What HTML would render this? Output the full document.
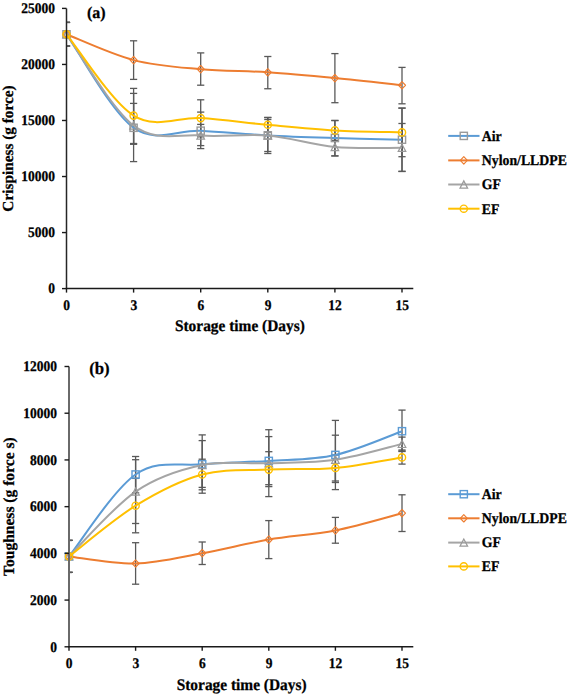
<!DOCTYPE html>
<html><head><meta charset="utf-8"><style>
html,body{margin:0;padding:0;background:#fff;}
body{width:568px;height:694px;overflow:hidden;}
svg{display:block;}
text{font-family:"Liberation Serif", serif;font-weight:bold;fill:#000;stroke:#000;stroke-width:0.25px;text-rendering:geometricPrecision;}
</style></head><body>
<svg width="568" height="694" viewBox="0 0 568 694">
<rect width="568" height="694" fill="#fff"/>
<line x1="66.50" y1="22.40" x2="70.10" y2="22.40" stroke="#595959" stroke-width="1.3"/><line x1="66.50" y1="46.00" x2="70.10" y2="46.00" stroke="#595959" stroke-width="1.3"/>
<line x1="133.60" y1="93.40" x2="133.60" y2="161.60" stroke="#595959" stroke-width="1.3"/><line x1="130.00" y1="93.40" x2="137.20" y2="93.40" stroke="#595959" stroke-width="1.3"/><line x1="130.00" y1="161.60" x2="137.20" y2="161.60" stroke="#595959" stroke-width="1.3"/>
<line x1="200.70" y1="112.10" x2="200.70" y2="148.60" stroke="#595959" stroke-width="1.3"/><line x1="197.10" y1="112.10" x2="204.30" y2="112.10" stroke="#595959" stroke-width="1.3"/><line x1="197.10" y1="148.60" x2="204.30" y2="148.60" stroke="#595959" stroke-width="1.3"/>
<line x1="267.80" y1="117.50" x2="267.80" y2="153.50" stroke="#595959" stroke-width="1.3"/><line x1="264.20" y1="117.50" x2="271.40" y2="117.50" stroke="#595959" stroke-width="1.3"/><line x1="264.20" y1="153.50" x2="271.40" y2="153.50" stroke="#595959" stroke-width="1.3"/>
<line x1="334.90" y1="120.50" x2="334.90" y2="155.90" stroke="#595959" stroke-width="1.3"/><line x1="331.30" y1="120.50" x2="338.50" y2="120.50" stroke="#595959" stroke-width="1.3"/><line x1="331.30" y1="155.90" x2="338.50" y2="155.90" stroke="#595959" stroke-width="1.3"/>
<line x1="402.00" y1="108.10" x2="402.00" y2="171.30" stroke="#595959" stroke-width="1.3"/><line x1="398.40" y1="108.10" x2="405.61" y2="108.10" stroke="#595959" stroke-width="1.3"/><line x1="398.40" y1="171.30" x2="405.61" y2="171.30" stroke="#595959" stroke-width="1.3"/>
<line x1="66.50" y1="22.40" x2="70.10" y2="22.40" stroke="#595959" stroke-width="1.3"/><line x1="66.50" y1="46.00" x2="70.10" y2="46.00" stroke="#595959" stroke-width="1.3"/>
<line x1="133.60" y1="40.80" x2="133.60" y2="79.40" stroke="#595959" stroke-width="1.3"/><line x1="130.00" y1="40.80" x2="137.20" y2="40.80" stroke="#595959" stroke-width="1.3"/><line x1="130.00" y1="79.40" x2="137.20" y2="79.40" stroke="#595959" stroke-width="1.3"/>
<line x1="200.70" y1="52.90" x2="200.70" y2="85.20" stroke="#595959" stroke-width="1.3"/><line x1="197.10" y1="52.90" x2="204.30" y2="52.90" stroke="#595959" stroke-width="1.3"/><line x1="197.10" y1="85.20" x2="204.30" y2="85.20" stroke="#595959" stroke-width="1.3"/>
<line x1="267.80" y1="56.50" x2="267.80" y2="88.75" stroke="#595959" stroke-width="1.3"/><line x1="264.20" y1="56.50" x2="271.40" y2="56.50" stroke="#595959" stroke-width="1.3"/><line x1="264.20" y1="88.75" x2="271.40" y2="88.75" stroke="#595959" stroke-width="1.3"/>
<line x1="334.90" y1="53.60" x2="334.90" y2="102.70" stroke="#595959" stroke-width="1.3"/><line x1="331.30" y1="53.60" x2="338.50" y2="53.60" stroke="#595959" stroke-width="1.3"/><line x1="331.30" y1="102.70" x2="338.50" y2="102.70" stroke="#595959" stroke-width="1.3"/>
<line x1="402.00" y1="67.40" x2="402.00" y2="103.80" stroke="#595959" stroke-width="1.3"/><line x1="398.40" y1="67.40" x2="405.61" y2="67.40" stroke="#595959" stroke-width="1.3"/><line x1="398.40" y1="103.80" x2="405.61" y2="103.80" stroke="#595959" stroke-width="1.3"/>
<line x1="66.50" y1="22.40" x2="70.10" y2="22.40" stroke="#595959" stroke-width="1.3"/><line x1="66.50" y1="46.00" x2="70.10" y2="46.00" stroke="#595959" stroke-width="1.3"/>
<line x1="133.60" y1="103.40" x2="133.60" y2="144.30" stroke="#595959" stroke-width="1.3"/><line x1="130.00" y1="103.40" x2="137.20" y2="103.40" stroke="#595959" stroke-width="1.3"/><line x1="130.00" y1="144.30" x2="137.20" y2="144.30" stroke="#595959" stroke-width="1.3"/>
<line x1="200.70" y1="124.40" x2="200.70" y2="145.60" stroke="#595959" stroke-width="1.3"/><line x1="197.10" y1="124.40" x2="204.30" y2="124.40" stroke="#595959" stroke-width="1.3"/><line x1="197.10" y1="145.60" x2="204.30" y2="145.60" stroke="#595959" stroke-width="1.3"/>
<line x1="267.80" y1="119.50" x2="267.80" y2="151.50" stroke="#595959" stroke-width="1.3"/><line x1="264.20" y1="119.50" x2="271.40" y2="119.50" stroke="#595959" stroke-width="1.3"/><line x1="264.20" y1="151.50" x2="271.40" y2="151.50" stroke="#595959" stroke-width="1.3"/>
<line x1="334.90" y1="138.10" x2="334.90" y2="155.90" stroke="#595959" stroke-width="1.3"/><line x1="331.30" y1="138.10" x2="338.50" y2="138.10" stroke="#595959" stroke-width="1.3"/><line x1="331.30" y1="155.90" x2="338.50" y2="155.90" stroke="#595959" stroke-width="1.3"/>
<line x1="402.00" y1="123.50" x2="402.00" y2="171.50" stroke="#595959" stroke-width="1.3"/><line x1="398.40" y1="123.50" x2="405.61" y2="123.50" stroke="#595959" stroke-width="1.3"/><line x1="398.40" y1="171.50" x2="405.61" y2="171.50" stroke="#595959" stroke-width="1.3"/>
<line x1="66.50" y1="22.40" x2="70.10" y2="22.40" stroke="#595959" stroke-width="1.3"/><line x1="66.50" y1="46.00" x2="70.10" y2="46.00" stroke="#595959" stroke-width="1.3"/>
<line x1="133.60" y1="88.40" x2="133.60" y2="143.50" stroke="#595959" stroke-width="1.3"/><line x1="130.00" y1="88.40" x2="137.20" y2="88.40" stroke="#595959" stroke-width="1.3"/><line x1="130.00" y1="143.50" x2="137.20" y2="143.50" stroke="#595959" stroke-width="1.3"/>
<line x1="200.70" y1="99.80" x2="200.70" y2="136.80" stroke="#595959" stroke-width="1.3"/><line x1="197.10" y1="99.80" x2="204.30" y2="99.80" stroke="#595959" stroke-width="1.3"/><line x1="197.10" y1="136.80" x2="204.30" y2="136.80" stroke="#595959" stroke-width="1.3"/>
<line x1="267.80" y1="117.50" x2="267.80" y2="132.00" stroke="#595959" stroke-width="1.3"/><line x1="264.20" y1="117.50" x2="271.40" y2="117.50" stroke="#595959" stroke-width="1.3"/><line x1="264.20" y1="132.00" x2="271.40" y2="132.00" stroke="#595959" stroke-width="1.3"/>
<line x1="334.90" y1="120.50" x2="334.90" y2="140.30" stroke="#595959" stroke-width="1.3"/><line x1="331.30" y1="120.50" x2="338.50" y2="120.50" stroke="#595959" stroke-width="1.3"/><line x1="331.30" y1="140.30" x2="338.50" y2="140.30" stroke="#595959" stroke-width="1.3"/>
<line x1="402.00" y1="108.10" x2="402.00" y2="156.70" stroke="#595959" stroke-width="1.3"/><line x1="398.40" y1="108.10" x2="405.61" y2="108.10" stroke="#595959" stroke-width="1.3"/><line x1="398.40" y1="156.70" x2="405.61" y2="156.70" stroke="#595959" stroke-width="1.3"/>
<path d="M66.50,34.30 C77.68,49.88 111.23,111.73 133.60,127.80 C155.97,143.87 178.34,129.43 200.70,130.70 C223.07,131.97 245.44,134.18 267.80,135.40 C290.17,136.62 312.54,137.28 334.90,138.00 C357.27,138.72 390.82,139.42 402.00,139.70" fill="none" stroke="#5B9BD5" stroke-width="2.00" stroke-linejoin="round"/>
<rect x="62.90" y="30.70" width="7.20" height="7.20" fill="none" stroke="#9A9A9A" stroke-width="1.40"/>
<rect x="130.00" y="124.20" width="7.20" height="7.20" fill="none" stroke="#9A9A9A" stroke-width="1.40"/>
<rect x="197.10" y="127.10" width="7.20" height="7.20" fill="none" stroke="#9A9A9A" stroke-width="1.40"/>
<rect x="264.20" y="131.80" width="7.20" height="7.20" fill="none" stroke="#9A9A9A" stroke-width="1.40"/>
<rect x="331.30" y="134.40" width="7.20" height="7.20" fill="none" stroke="#9A9A9A" stroke-width="1.40"/>
<rect x="398.40" y="136.10" width="7.20" height="7.20" fill="none" stroke="#9A9A9A" stroke-width="1.40"/>
<path d="M66.50,34.30 C77.68,38.60 111.23,54.28 133.60,60.10 C155.97,65.92 178.34,67.17 200.70,69.20 C223.07,71.23 245.44,70.82 267.80,72.30 C290.17,73.78 312.54,75.94 334.90,78.10 C357.27,80.26 390.82,84.06 402.00,85.25" fill="none" stroke="#ED7D31" stroke-width="2.00" stroke-linejoin="round"/>
<path d="M66.50,30.60 L70.00,34.30 L66.50,38.00 L63.00,34.30 Z" fill="none" stroke="#ED7D31" stroke-width="1.15" stroke-linejoin="round"/>
<path d="M133.60,56.40 L137.10,60.10 L133.60,63.80 L130.10,60.10 Z" fill="none" stroke="#ED7D31" stroke-width="1.15" stroke-linejoin="round"/>
<path d="M200.70,65.50 L204.20,69.20 L200.70,72.90 L197.20,69.20 Z" fill="none" stroke="#ED7D31" stroke-width="1.15" stroke-linejoin="round"/>
<path d="M267.80,68.60 L271.30,72.30 L267.80,76.00 L264.30,72.30 Z" fill="none" stroke="#ED7D31" stroke-width="1.15" stroke-linejoin="round"/>
<path d="M334.90,74.40 L338.40,78.10 L334.90,81.80 L331.40,78.10 Z" fill="none" stroke="#ED7D31" stroke-width="1.15" stroke-linejoin="round"/>
<path d="M402.00,81.55 L405.50,85.25 L402.00,88.95 L398.50,85.25 Z" fill="none" stroke="#ED7D31" stroke-width="1.15" stroke-linejoin="round"/>
<path d="M66.50,34.30 C77.68,49.50 111.23,108.63 133.60,125.50 C155.97,142.37 178.34,133.83 200.70,135.50 C223.07,137.17 245.44,133.58 267.80,135.50 C290.17,137.42 312.54,144.95 334.90,147.00 C357.27,149.05 390.82,147.67 402.00,147.80" fill="none" stroke="#A5A5A5" stroke-width="2.00" stroke-linejoin="round"/>
<path d="M66.50,30.70 L70.30,37.90 L62.70,37.90 Z" fill="none" stroke="#9A9A9A" stroke-width="1.20" stroke-linejoin="miter"/>
<path d="M133.60,121.90 L137.40,129.10 L129.80,129.10 Z" fill="none" stroke="#9A9A9A" stroke-width="1.20" stroke-linejoin="miter"/>
<path d="M200.70,131.90 L204.50,139.10 L196.90,139.10 Z" fill="none" stroke="#9A9A9A" stroke-width="1.20" stroke-linejoin="miter"/>
<path d="M267.80,131.90 L271.60,139.10 L264.00,139.10 Z" fill="none" stroke="#9A9A9A" stroke-width="1.20" stroke-linejoin="miter"/>
<path d="M334.90,143.40 L338.70,150.60 L331.10,150.60 Z" fill="none" stroke="#9A9A9A" stroke-width="1.20" stroke-linejoin="miter"/>
<path d="M402.00,144.20 L405.81,151.40 L398.20,151.40 Z" fill="none" stroke="#9A9A9A" stroke-width="1.20" stroke-linejoin="miter"/>
<path d="M66.50,34.30 C77.68,47.85 111.23,101.63 133.60,115.60 C155.97,129.57 178.34,116.57 200.70,118.10 C223.07,119.63 245.44,122.75 267.80,124.80 C290.17,126.85 312.54,129.13 334.90,130.40 C357.27,131.67 390.82,132.07 402.00,132.40" fill="none" stroke="#FFC000" stroke-width="2.00" stroke-linejoin="round"/>
<circle cx="66.50" cy="34.30" r="3.6" fill="none" stroke="#FFC000" stroke-width="1.40"/>
<circle cx="133.60" cy="115.60" r="3.6" fill="none" stroke="#FFC000" stroke-width="1.40"/>
<circle cx="200.70" cy="118.10" r="3.6" fill="none" stroke="#FFC000" stroke-width="1.40"/>
<circle cx="267.80" cy="124.80" r="3.6" fill="none" stroke="#FFC000" stroke-width="1.40"/>
<circle cx="334.90" cy="130.40" r="3.6" fill="none" stroke="#FFC000" stroke-width="1.40"/>
<circle cx="402.00" cy="132.40" r="3.6" fill="none" stroke="#FFC000" stroke-width="1.40"/>
<line x1="66.50" y1="8.40" x2="66.50" y2="288.60" stroke="#262626" stroke-width="1.50"/>
<line x1="65.80" y1="288.60" x2="413.30" y2="288.60" stroke="#1a1a1a" stroke-width="1.5"/>
<line x1="62.00" y1="288.60" x2="66.50" y2="288.60" stroke="#1a1a1a" stroke-width="1.4"/>
<text transform="translate(55.00,293.35) scale(1,1.090)" font-size="13.50" text-anchor="end">0</text>
<line x1="62.00" y1="232.56" x2="66.50" y2="232.56" stroke="#1a1a1a" stroke-width="1.4"/>
<text transform="translate(55.00,237.31) scale(1,1.090)" font-size="13.50" text-anchor="end">5000</text>
<line x1="62.00" y1="176.52" x2="66.50" y2="176.52" stroke="#1a1a1a" stroke-width="1.4"/>
<text transform="translate(55.00,181.27) scale(1,1.090)" font-size="13.50" text-anchor="end">10000</text>
<line x1="62.00" y1="120.48" x2="66.50" y2="120.48" stroke="#1a1a1a" stroke-width="1.4"/>
<text transform="translate(55.00,125.23) scale(1,1.090)" font-size="13.50" text-anchor="end">15000</text>
<line x1="62.00" y1="64.44" x2="66.50" y2="64.44" stroke="#1a1a1a" stroke-width="1.4"/>
<text transform="translate(55.00,69.19) scale(1,1.090)" font-size="13.50" text-anchor="end">20000</text>
<line x1="62.00" y1="8.40" x2="66.50" y2="8.40" stroke="#1a1a1a" stroke-width="1.4"/>
<text transform="translate(55.00,13.15) scale(1,1.090)" font-size="13.50" text-anchor="end">25000</text>
<line x1="66.50" y1="288.60" x2="66.50" y2="292.60" stroke="#1a1a1a" stroke-width="1.4"/>
<text transform="translate(66.70,309.60) scale(1,1.090)" font-size="13.50" text-anchor="middle">0</text>
<line x1="133.60" y1="288.60" x2="133.60" y2="292.60" stroke="#1a1a1a" stroke-width="1.4"/>
<text transform="translate(133.80,309.60) scale(1,1.090)" font-size="13.50" text-anchor="middle">3</text>
<line x1="200.70" y1="288.60" x2="200.70" y2="292.60" stroke="#1a1a1a" stroke-width="1.4"/>
<text transform="translate(200.90,309.60) scale(1,1.090)" font-size="13.50" text-anchor="middle">6</text>
<line x1="267.80" y1="288.60" x2="267.80" y2="292.60" stroke="#1a1a1a" stroke-width="1.4"/>
<text transform="translate(268.00,309.60) scale(1,1.090)" font-size="13.50" text-anchor="middle">9</text>
<line x1="334.90" y1="288.60" x2="334.90" y2="292.60" stroke="#1a1a1a" stroke-width="1.4"/>
<text transform="translate(335.10,309.60) scale(1,1.090)" font-size="13.50" text-anchor="middle">12</text>
<line x1="402.00" y1="288.60" x2="402.00" y2="292.60" stroke="#1a1a1a" stroke-width="1.4"/>
<text transform="translate(402.20,309.60) scale(1,1.090)" font-size="13.50" text-anchor="middle">15</text>
<text transform="translate(239.90,330.80) scale(1,1.050)" font-size="15.40" text-anchor="middle">Storage time (Days)</text>
<text transform="translate(12.60,148.50) rotate(-90)" font-size="15.30" text-anchor="middle">Crispiness (g force)</text>
<text transform="translate(87.00,18.30) scale(1,1.030)" font-size="16.00" text-anchor="start">(a)</text>
<line x1="448.2" y1="135.90" x2="479.5" y2="135.90" stroke="#5B9BD5" stroke-width="2"/>
<rect x="460.20" y="132.30" width="7.20" height="7.20" fill="none" stroke="#9A9A9A" stroke-width="1.40"/>
<text transform="translate(481.80,140.70) scale(1,1.070)" font-size="13.80" text-anchor="start">Air</text>
<line x1="448.2" y1="160.40" x2="479.5" y2="160.40" stroke="#ED7D31" stroke-width="2"/>
<path d="M463.80,156.70 L467.30,160.40 L463.80,164.10 L460.30,160.40 Z" fill="none" stroke="#ED7D31" stroke-width="1.15" stroke-linejoin="round"/>
<text transform="translate(481.80,165.20) scale(1,1.070)" font-size="13.80" text-anchor="start">Nylon/LLDPE</text>
<line x1="448.2" y1="184.50" x2="479.5" y2="184.50" stroke="#A5A5A5" stroke-width="2"/>
<path d="M463.80,180.90 L467.60,188.10 L460.00,188.10 Z" fill="none" stroke="#9A9A9A" stroke-width="1.20" stroke-linejoin="miter"/>
<text transform="translate(481.80,189.30) scale(1,1.070)" font-size="13.80" text-anchor="start">GF</text>
<line x1="448.2" y1="208.70" x2="479.5" y2="208.70" stroke="#FFC000" stroke-width="2"/>
<circle cx="463.80" cy="208.70" r="3.6" fill="none" stroke="#FFC000" stroke-width="1.40"/>
<text transform="translate(481.80,213.50) scale(1,1.070)" font-size="13.80" text-anchor="start">EF</text>
<line x1="69.00" y1="540.40" x2="72.60" y2="540.40" stroke="#595959" stroke-width="1.3"/><line x1="69.00" y1="572.40" x2="72.60" y2="572.40" stroke="#595959" stroke-width="1.3"/>
<line x1="135.60" y1="456.50" x2="135.60" y2="492.70" stroke="#595959" stroke-width="1.3"/><line x1="132.00" y1="456.50" x2="139.20" y2="456.50" stroke="#595959" stroke-width="1.3"/><line x1="132.00" y1="492.70" x2="139.20" y2="492.70" stroke="#595959" stroke-width="1.3"/>
<line x1="202.20" y1="434.90" x2="202.20" y2="493.20" stroke="#595959" stroke-width="1.3"/><line x1="198.60" y1="434.90" x2="205.80" y2="434.90" stroke="#595959" stroke-width="1.3"/><line x1="198.60" y1="493.20" x2="205.80" y2="493.20" stroke="#595959" stroke-width="1.3"/>
<line x1="268.80" y1="436.60" x2="268.80" y2="484.70" stroke="#595959" stroke-width="1.3"/><line x1="265.20" y1="436.60" x2="272.40" y2="436.60" stroke="#595959" stroke-width="1.3"/><line x1="265.20" y1="484.70" x2="272.40" y2="484.70" stroke="#595959" stroke-width="1.3"/>
<line x1="335.40" y1="420.40" x2="335.40" y2="489.60" stroke="#595959" stroke-width="1.3"/><line x1="331.80" y1="420.40" x2="339.00" y2="420.40" stroke="#595959" stroke-width="1.3"/><line x1="331.80" y1="489.60" x2="339.00" y2="489.60" stroke="#595959" stroke-width="1.3"/>
<line x1="402.00" y1="410.10" x2="402.00" y2="451.50" stroke="#595959" stroke-width="1.3"/><line x1="398.40" y1="410.10" x2="405.60" y2="410.10" stroke="#595959" stroke-width="1.3"/><line x1="398.40" y1="451.50" x2="405.60" y2="451.50" stroke="#595959" stroke-width="1.3"/>
<line x1="69.00" y1="540.40" x2="72.60" y2="540.40" stroke="#595959" stroke-width="1.3"/><line x1="69.00" y1="572.40" x2="72.60" y2="572.40" stroke="#595959" stroke-width="1.3"/>
<line x1="135.60" y1="542.70" x2="135.60" y2="584.20" stroke="#595959" stroke-width="1.3"/><line x1="132.00" y1="542.70" x2="139.20" y2="542.70" stroke="#595959" stroke-width="1.3"/><line x1="132.00" y1="584.20" x2="139.20" y2="584.20" stroke="#595959" stroke-width="1.3"/>
<line x1="202.20" y1="542.00" x2="202.20" y2="564.50" stroke="#595959" stroke-width="1.3"/><line x1="198.60" y1="542.00" x2="205.80" y2="542.00" stroke="#595959" stroke-width="1.3"/><line x1="198.60" y1="564.50" x2="205.80" y2="564.50" stroke="#595959" stroke-width="1.3"/>
<line x1="268.80" y1="520.60" x2="268.80" y2="558.60" stroke="#595959" stroke-width="1.3"/><line x1="265.20" y1="520.60" x2="272.40" y2="520.60" stroke="#595959" stroke-width="1.3"/><line x1="265.20" y1="558.60" x2="272.40" y2="558.60" stroke="#595959" stroke-width="1.3"/>
<line x1="335.40" y1="517.40" x2="335.40" y2="543.20" stroke="#595959" stroke-width="1.3"/><line x1="331.80" y1="517.40" x2="339.00" y2="517.40" stroke="#595959" stroke-width="1.3"/><line x1="331.80" y1="543.20" x2="339.00" y2="543.20" stroke="#595959" stroke-width="1.3"/>
<line x1="402.00" y1="494.80" x2="402.00" y2="531.50" stroke="#595959" stroke-width="1.3"/><line x1="398.40" y1="494.80" x2="405.60" y2="494.80" stroke="#595959" stroke-width="1.3"/><line x1="398.40" y1="531.50" x2="405.60" y2="531.50" stroke="#595959" stroke-width="1.3"/>
<line x1="69.00" y1="540.40" x2="72.60" y2="540.40" stroke="#595959" stroke-width="1.3"/><line x1="69.00" y1="572.40" x2="72.60" y2="572.40" stroke="#595959" stroke-width="1.3"/>
<line x1="135.60" y1="459.70" x2="135.60" y2="523.50" stroke="#595959" stroke-width="1.3"/><line x1="132.00" y1="459.70" x2="139.20" y2="459.70" stroke="#595959" stroke-width="1.3"/><line x1="132.00" y1="523.50" x2="139.20" y2="523.50" stroke="#595959" stroke-width="1.3"/>
<line x1="202.20" y1="440.60" x2="202.20" y2="487.40" stroke="#595959" stroke-width="1.3"/><line x1="198.60" y1="440.60" x2="205.80" y2="440.60" stroke="#595959" stroke-width="1.3"/><line x1="198.60" y1="487.40" x2="205.80" y2="487.40" stroke="#595959" stroke-width="1.3"/>
<line x1="268.80" y1="429.70" x2="268.80" y2="496.60" stroke="#595959" stroke-width="1.3"/><line x1="265.20" y1="429.70" x2="272.40" y2="429.70" stroke="#595959" stroke-width="1.3"/><line x1="265.20" y1="496.60" x2="272.40" y2="496.60" stroke="#595959" stroke-width="1.3"/>
<line x1="335.40" y1="435.20" x2="335.40" y2="482.50" stroke="#595959" stroke-width="1.3"/><line x1="331.80" y1="435.20" x2="339.00" y2="435.20" stroke="#595959" stroke-width="1.3"/><line x1="331.80" y1="482.50" x2="339.00" y2="482.50" stroke="#595959" stroke-width="1.3"/>
<line x1="402.00" y1="437.10" x2="402.00" y2="451.00" stroke="#595959" stroke-width="1.3"/><line x1="398.40" y1="437.10" x2="405.60" y2="437.10" stroke="#595959" stroke-width="1.3"/><line x1="398.40" y1="451.00" x2="405.60" y2="451.00" stroke="#595959" stroke-width="1.3"/>
<line x1="69.00" y1="540.40" x2="72.60" y2="540.40" stroke="#595959" stroke-width="1.3"/><line x1="69.00" y1="572.40" x2="72.60" y2="572.40" stroke="#595959" stroke-width="1.3"/>
<line x1="135.60" y1="478.40" x2="135.60" y2="532.80" stroke="#595959" stroke-width="1.3"/><line x1="132.00" y1="478.40" x2="139.20" y2="478.40" stroke="#595959" stroke-width="1.3"/><line x1="132.00" y1="532.80" x2="139.20" y2="532.80" stroke="#595959" stroke-width="1.3"/>
<line x1="202.20" y1="459.20" x2="202.20" y2="489.80" stroke="#595959" stroke-width="1.3"/><line x1="198.60" y1="459.20" x2="205.80" y2="459.20" stroke="#595959" stroke-width="1.3"/><line x1="198.60" y1="489.80" x2="205.80" y2="489.80" stroke="#595959" stroke-width="1.3"/>
<line x1="268.80" y1="451.70" x2="268.80" y2="486.60" stroke="#595959" stroke-width="1.3"/><line x1="265.20" y1="451.70" x2="272.40" y2="451.70" stroke="#595959" stroke-width="1.3"/><line x1="265.20" y1="486.60" x2="272.40" y2="486.60" stroke="#595959" stroke-width="1.3"/>
<line x1="335.40" y1="455.00" x2="335.40" y2="481.00" stroke="#595959" stroke-width="1.3"/><line x1="331.80" y1="455.00" x2="339.00" y2="455.00" stroke="#595959" stroke-width="1.3"/><line x1="331.80" y1="481.00" x2="339.00" y2="481.00" stroke="#595959" stroke-width="1.3"/>
<line x1="402.00" y1="450.00" x2="402.00" y2="464.10" stroke="#595959" stroke-width="1.3"/><line x1="398.40" y1="450.00" x2="405.60" y2="450.00" stroke="#595959" stroke-width="1.3"/><line x1="398.40" y1="464.10" x2="405.60" y2="464.10" stroke="#595959" stroke-width="1.3"/>
<path d="M69.00,556.40 C80.10,542.75 113.40,489.85 135.60,474.50 C157.80,459.15 180.00,466.57 202.20,464.30 C224.40,462.03 246.60,462.47 268.80,460.90 C291.00,459.33 313.20,459.85 335.40,454.90 C357.60,449.95 390.90,435.15 402.00,431.20" fill="none" stroke="#5B9BD5" stroke-width="2.00" stroke-linejoin="round"/>
<rect x="65.40" y="552.80" width="7.20" height="7.20" fill="none" stroke="#5B9BD5" stroke-width="1.40"/>
<rect x="132.00" y="470.90" width="7.20" height="7.20" fill="none" stroke="#5B9BD5" stroke-width="1.40"/>
<rect x="198.60" y="460.70" width="7.20" height="7.20" fill="none" stroke="#5B9BD5" stroke-width="1.40"/>
<rect x="265.20" y="457.30" width="7.20" height="7.20" fill="none" stroke="#5B9BD5" stroke-width="1.40"/>
<rect x="331.80" y="451.30" width="7.20" height="7.20" fill="none" stroke="#5B9BD5" stroke-width="1.40"/>
<rect x="398.40" y="427.60" width="7.20" height="7.20" fill="none" stroke="#5B9BD5" stroke-width="1.40"/>
<path d="M69.00,556.40 C80.10,557.58 113.40,564.03 135.60,563.50 C157.80,562.97 180.00,557.18 202.20,553.20 C224.40,549.22 246.60,543.40 268.80,539.60 C291.00,535.80 313.20,534.80 335.40,530.40 C357.60,526.00 390.90,516.07 402.00,513.20" fill="none" stroke="#ED7D31" stroke-width="2.00" stroke-linejoin="round"/>
<path d="M69.00,552.70 L72.50,556.40 L69.00,560.10 L65.50,556.40 Z" fill="none" stroke="#ED7D31" stroke-width="1.15" stroke-linejoin="round"/>
<path d="M135.60,559.80 L139.10,563.50 L135.60,567.20 L132.10,563.50 Z" fill="none" stroke="#ED7D31" stroke-width="1.15" stroke-linejoin="round"/>
<path d="M202.20,549.50 L205.70,553.20 L202.20,556.90 L198.70,553.20 Z" fill="none" stroke="#ED7D31" stroke-width="1.15" stroke-linejoin="round"/>
<path d="M268.80,535.90 L272.30,539.60 L268.80,543.30 L265.30,539.60 Z" fill="none" stroke="#ED7D31" stroke-width="1.15" stroke-linejoin="round"/>
<path d="M335.40,526.70 L338.90,530.40 L335.40,534.10 L331.90,530.40 Z" fill="none" stroke="#ED7D31" stroke-width="1.15" stroke-linejoin="round"/>
<path d="M402.00,509.50 L405.50,513.20 L402.00,516.90 L398.50,513.20 Z" fill="none" stroke="#ED7D31" stroke-width="1.15" stroke-linejoin="round"/>
<path d="M69.00,556.40 C80.10,545.60 113.40,506.83 135.60,491.60 C157.80,476.37 180.00,469.73 202.20,465.00 C224.40,460.27 246.60,464.08 268.80,463.20 C291.00,462.32 313.20,462.92 335.40,459.70 C357.60,456.48 390.90,446.53 402.00,443.90" fill="none" stroke="#A5A5A5" stroke-width="2.00" stroke-linejoin="round"/>
<path d="M69.00,552.80 L72.80,560.00 L65.20,560.00 Z" fill="none" stroke="#9A9A9A" stroke-width="1.20" stroke-linejoin="miter"/>
<path d="M135.60,488.00 L139.40,495.20 L131.80,495.20 Z" fill="none" stroke="#9A9A9A" stroke-width="1.20" stroke-linejoin="miter"/>
<path d="M202.20,461.40 L206.00,468.60 L198.40,468.60 Z" fill="none" stroke="#9A9A9A" stroke-width="1.20" stroke-linejoin="miter"/>
<path d="M268.80,459.60 L272.60,466.80 L265.00,466.80 Z" fill="none" stroke="#9A9A9A" stroke-width="1.20" stroke-linejoin="miter"/>
<path d="M335.40,456.10 L339.20,463.30 L331.60,463.30 Z" fill="none" stroke="#9A9A9A" stroke-width="1.20" stroke-linejoin="miter"/>
<path d="M402.00,440.30 L405.80,447.50 L398.20,447.50 Z" fill="none" stroke="#9A9A9A" stroke-width="1.20" stroke-linejoin="miter"/>
<path d="M69.00,556.40 C80.10,547.95 113.40,519.35 135.60,505.70 C157.80,492.05 180.00,480.52 202.20,474.50 C224.40,468.48 246.60,470.70 268.80,469.60 C291.00,468.50 313.20,469.93 335.40,467.90 C357.60,465.87 390.90,459.15 402.00,457.40" fill="none" stroke="#FFC000" stroke-width="2.00" stroke-linejoin="round"/>
<circle cx="69.00" cy="556.40" r="3.6" fill="none" stroke="#FFC000" stroke-width="1.40"/>
<circle cx="135.60" cy="505.70" r="3.6" fill="none" stroke="#FFC000" stroke-width="1.40"/>
<circle cx="202.20" cy="474.50" r="3.6" fill="none" stroke="#FFC000" stroke-width="1.40"/>
<circle cx="268.80" cy="469.60" r="3.6" fill="none" stroke="#FFC000" stroke-width="1.40"/>
<circle cx="335.40" cy="467.90" r="3.6" fill="none" stroke="#FFC000" stroke-width="1.40"/>
<circle cx="402.00" cy="457.40" r="3.6" fill="none" stroke="#FFC000" stroke-width="1.40"/>
<line x1="69.00" y1="366.50" x2="69.00" y2="646.80" stroke="#6a6a6a" stroke-width="2.00"/>
<line x1="68.30" y1="646.80" x2="413.30" y2="646.80" stroke="#1a1a1a" stroke-width="1.5"/>
<line x1="64.50" y1="646.80" x2="69.00" y2="646.80" stroke="#1a1a1a" stroke-width="1.4"/>
<text transform="translate(57.00,651.55) scale(1,1.090)" font-size="13.50" text-anchor="end">0</text>
<line x1="64.50" y1="600.08" x2="69.00" y2="600.08" stroke="#1a1a1a" stroke-width="1.4"/>
<text transform="translate(57.00,604.83) scale(1,1.090)" font-size="13.50" text-anchor="end">2000</text>
<line x1="64.50" y1="553.37" x2="69.00" y2="553.37" stroke="#1a1a1a" stroke-width="1.4"/>
<text transform="translate(57.00,558.12) scale(1,1.090)" font-size="13.50" text-anchor="end">4000</text>
<line x1="64.50" y1="506.65" x2="69.00" y2="506.65" stroke="#1a1a1a" stroke-width="1.4"/>
<text transform="translate(57.00,511.40) scale(1,1.090)" font-size="13.50" text-anchor="end">6000</text>
<line x1="64.50" y1="459.93" x2="69.00" y2="459.93" stroke="#1a1a1a" stroke-width="1.4"/>
<text transform="translate(57.00,464.68) scale(1,1.090)" font-size="13.50" text-anchor="end">8000</text>
<line x1="64.50" y1="413.22" x2="69.00" y2="413.22" stroke="#1a1a1a" stroke-width="1.4"/>
<text transform="translate(57.00,417.97) scale(1,1.090)" font-size="13.50" text-anchor="end">10000</text>
<line x1="64.50" y1="366.50" x2="69.00" y2="366.50" stroke="#1a1a1a" stroke-width="1.4"/>
<text transform="translate(57.00,371.25) scale(1,1.090)" font-size="13.50" text-anchor="end">12000</text>
<line x1="69.00" y1="646.80" x2="69.00" y2="650.80" stroke="#1a1a1a" stroke-width="1.4"/>
<text transform="translate(69.20,667.80) scale(1,1.090)" font-size="13.50" text-anchor="middle">0</text>
<line x1="135.60" y1="646.80" x2="135.60" y2="650.80" stroke="#1a1a1a" stroke-width="1.4"/>
<text transform="translate(135.80,667.80) scale(1,1.090)" font-size="13.50" text-anchor="middle">3</text>
<line x1="202.20" y1="646.80" x2="202.20" y2="650.80" stroke="#1a1a1a" stroke-width="1.4"/>
<text transform="translate(202.40,667.80) scale(1,1.090)" font-size="13.50" text-anchor="middle">6</text>
<line x1="268.80" y1="646.80" x2="268.80" y2="650.80" stroke="#1a1a1a" stroke-width="1.4"/>
<text transform="translate(269.00,667.80) scale(1,1.090)" font-size="13.50" text-anchor="middle">9</text>
<line x1="335.40" y1="646.80" x2="335.40" y2="650.80" stroke="#1a1a1a" stroke-width="1.4"/>
<text transform="translate(335.60,667.80) scale(1,1.090)" font-size="13.50" text-anchor="middle">12</text>
<line x1="402.00" y1="646.80" x2="402.00" y2="650.80" stroke="#1a1a1a" stroke-width="1.4"/>
<text transform="translate(402.20,667.80) scale(1,1.090)" font-size="13.50" text-anchor="middle">15</text>
<text transform="translate(241.65,690.00) scale(1,1.050)" font-size="15.40" text-anchor="middle">Storage time (Days)</text>
<text transform="translate(13.90,506.65) rotate(-90)" font-size="15.55" text-anchor="middle">Toughness (g force s)</text>
<text transform="translate(89.20,373.90) scale(1,1.030)" font-size="16.80" text-anchor="start">(b)</text>
<line x1="448.2" y1="494.20" x2="479.5" y2="494.20" stroke="#5B9BD5" stroke-width="2"/>
<rect x="460.20" y="490.60" width="7.20" height="7.20" fill="none" stroke="#5B9BD5" stroke-width="1.40"/>
<text transform="translate(481.80,499.00) scale(1,1.070)" font-size="13.80" text-anchor="start">Air</text>
<line x1="448.2" y1="518.30" x2="479.5" y2="518.30" stroke="#ED7D31" stroke-width="2"/>
<path d="M463.80,514.60 L467.30,518.30 L463.80,522.00 L460.30,518.30 Z" fill="none" stroke="#ED7D31" stroke-width="1.15" stroke-linejoin="round"/>
<text transform="translate(481.80,523.10) scale(1,1.070)" font-size="13.80" text-anchor="start">Nylon/LLDPE</text>
<line x1="448.2" y1="542.60" x2="479.5" y2="542.60" stroke="#A5A5A5" stroke-width="2"/>
<path d="M463.80,539.00 L467.60,546.20 L460.00,546.20 Z" fill="none" stroke="#9A9A9A" stroke-width="1.20" stroke-linejoin="miter"/>
<text transform="translate(481.80,547.40) scale(1,1.070)" font-size="13.80" text-anchor="start">GF</text>
<line x1="448.2" y1="566.40" x2="479.5" y2="566.40" stroke="#FFC000" stroke-width="2"/>
<circle cx="463.80" cy="566.40" r="3.6" fill="none" stroke="#FFC000" stroke-width="1.40"/>
<text transform="translate(481.80,571.20) scale(1,1.070)" font-size="13.80" text-anchor="start">EF</text>
</svg>
</body></html>
